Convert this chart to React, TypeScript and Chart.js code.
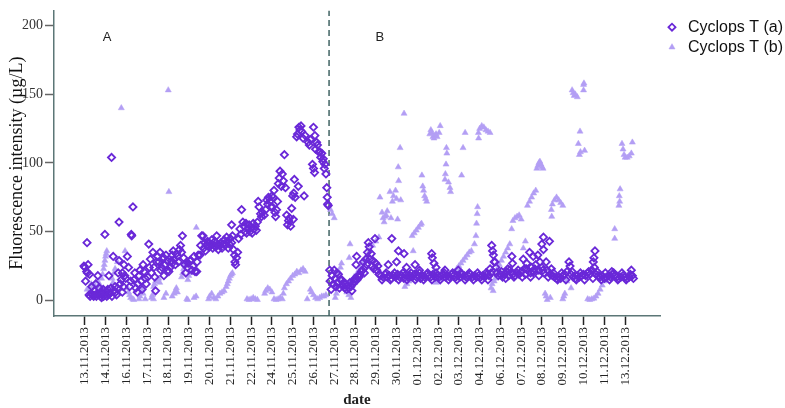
import React, { useEffect, useRef } from 'react';
import { Chart, registerables } from 'chart.js';

Chart.register(...registerables);

// ---------- data ----------
const tickLabels = [
  '13.11.2013', '14.11.2013', '16.11.2013', '17.11.2013', '18.11.2013', '19.11.2013',
  '20.11.2013', '21.11.2013', '22.11.2013', '24.11.2013', '25.11.2013', '26.11.2013',
  '27.11.2013', '28.11.2013', '29.11.2013', '30.11.2013', '01.12.2013', '02.12.2013',
  '03.12.2013', '04.12.2013', '06.12.2013', '07.12.2013', '08.12.2013', '09.12.2013',
  '10.12.2013', '11.12.2013', '13.12.2013',
];
const yTickValues = [0, 50, 100, 150, 200];
const xRange = [-1.49, 27.68];
const yRange = [-11.3, 211];
const phaseDivider = 11.75;
const panelLabels = ['A', 'B'];
const panelLabelX = [1.06, 14.2];
const panelLabelY = 191;
const seriesNames = ['Cyclops T (a)', 'Cyclops T (b)'];

// x = position on the date axis (tick index), y = fluorescence intensity (µg/L)
const cyclopsA_phaseA: [number, number][] = [
  [-0.05, 25], [0.0, 24], [0.03, 14], [0.08, 21], [0.1, 42], [0.12, 20], [0.15, 26], [0.2, 4], [0.22, 19],
  [0.25, 3], [0.3, 5], [0.33, 10], [0.38, 4], [0.42, 3], [0.45, 7], [0.5, 4], [0.52, 12], [0.55, 3],
  [0.6, 5], [0.62, 18], [0.68, 4], [0.7, 9], [0.75, 3], [0.78, 6], [0.8, 2], [0.85, 5], [0.88, 8],
  [0.9, 3], [0.96, 48], [0.98, 4],
  [1.02, 6], [1.05, 3], [1.1, 8], [1.12, 4], [1.15, 18], [1.2, 5], [1.25, 9], [1.28, 104], [1.3, 3],
  [1.36, 32], [1.4, 7], [1.45, 10], [1.48, 6], [1.52, 4], [1.56, 9], [1.6, 20], [1.64, 57], [1.64, 29],
  [1.7, 12], [1.75, 15], [1.8, 20], [1.8, 6], [1.85, 10], [1.88, 26], [1.92, 18], [1.96, 16],
  [2.04, 32], [2.1, 24], [2.15, 10], [2.2, 14], [2.23, 48], [2.25, 47], [2.31, 68], [2.36, 15], [2.4, 20],
  [2.45, 9], [2.52, 6], [2.55, 12], [2.6, 18], [2.65, 22], [2.71, 14], [2.75, 8], [2.8, 26], [2.84, 21],
  [2.9, 16], [2.95, 12],
  [3.03, 17], [3.07, 41], [3.1, 24], [3.15, 30], [3.2, 20], [3.27, 35], [3.32, 24], [3.36, 17], [3.4, 7],
  [3.45, 28], [3.5, 32], [3.56, 28], [3.61, 35], [3.65, 22], [3.7, 24], [3.75, 30], [3.8, 31], [3.8, 18],
  [3.85, 26], [3.9, 33], [3.95, 29], [4.0, 22],
  [4.04, 21], [4.1, 24], [4.15, 29], [4.2, 33], [4.2, 27], [4.25, 36], [4.3, 30], [4.35, 26], [4.4, 34],
  [4.45, 32], [4.5, 28], [4.55, 37], [4.6, 40], [4.65, 35], [4.69, 47], [4.75, 31], [4.8, 26], [4.85, 20],
  [4.93, 24], [4.97, 27],
  [5.05, 29], [5.09, 29], [5.15, 22], [5.2, 25], [5.25, 32], [5.3, 21], [5.38, 21], [5.4, 28], [5.45, 33],
  [5.54, 33], [5.57, 40], [5.62, 47], [5.68, 47], [5.72, 38], [5.76, 42], [5.8, 36], [5.85, 40], [5.9, 43],
  [5.94, 42], [6.0, 39],
  [6.05, 41], [6.1, 44], [6.15, 38], [6.2, 40], [6.25, 43], [6.3, 39], [6.34, 47], [6.38, 41], [6.42, 37],
  [6.5, 40], [6.55, 42], [6.6, 38], [6.65, 41], [6.7, 44], [6.75, 40], [6.82, 46], [6.86, 43], [6.9, 38],
  [6.95, 41], [7.0, 45], [7.06, 42], [7.06, 55], [7.1, 47],
  [7.15, 37], [7.2, 33], [7.22, 28], [7.25, 26], [7.3, 31], [7.35, 35], [7.4, 45], [7.46, 52], [7.5, 48],
  [7.54, 66], [7.6, 57], [7.65, 54], [7.7, 50], [7.75, 56], [7.78, 49], [7.85, 52], [7.9, 55], [7.95, 50],
  [8.0, 53],
  [8.05, 49], [8.1, 56], [8.15, 52], [8.2, 54], [8.25, 51], [8.3, 57], [8.34, 72], [8.38, 68], [8.45, 63],
  [8.5, 61], [8.55, 64], [8.63, 62], [8.7, 66], [8.75, 73], [8.8, 70], [8.83, 75], [8.9, 72], [8.95, 68],
  [9.0, 76], [9.02, 68],
  [9.06, 75], [9.1, 80], [9.15, 64], [9.18, 61], [9.22, 66], [9.27, 72], [9.31, 85], [9.35, 89], [9.39, 94],
  [9.45, 83], [9.5, 92], [9.55, 87], [9.6, 106], [9.65, 82], [9.71, 62], [9.75, 55], [9.8, 58], [9.85, 60],
  [9.9, 54], [9.95, 67], [10.0, 76], [10.03, 59],
  [10.05, 78], [10.08, 88], [10.12, 75], [10.19, 119], [10.23, 121], [10.27, 83], [10.3, 126], [10.35, 124],
  [10.4, 127], [10.43, 123], [10.5, 118], [10.55, 76], [10.6, 120], [10.75, 115], [10.8, 113], [10.85, 117],
  [10.95, 99], [11.0, 126], [11.0, 96], [11.05, 93], [11.07, 120],
  [11.1, 110], [11.15, 115], [11.19, 113], [11.25, 108], [11.31, 108], [11.35, 104], [11.4, 107], [11.45, 101],
  [11.47, 103], [11.52, 96], [11.55, 99], [11.6, 92], [11.64, 82], [11.66, 75], [11.68, 70], [11.71, 69],
];

const cyclopsA_phaseB: [number, number][] = [
  [11.78, 22], [11.8, 14], [11.85, 8], [11.9, 18], [11.95, 12], [12.0, 22], [12.04, 16], [12.08, 10],
  [12.12, 20], [12.15, 13], [12.2, 19], [12.25, 9], [12.3, 15], [12.36, 15], [12.4, 11], [12.45, 13], [12.5, 9],
  [12.55, 12], [12.6, 8], [12.65, 11], [12.7, 9], [12.75, 13], [12.8, 10], [12.85, 7], [12.9, 12], [12.95, 14],
  [13.0, 16], [13.05, 26], [13.08, 32], [13.1, 15], [13.15, 18], [13.2, 17], [13.24, 19], [13.3, 21],
  [13.35, 22], [13.4, 28], [13.45, 20], [13.48, 24],
  [13.52, 30], [13.56, 26], [13.6, 35], [13.64, 42], [13.68, 39], [13.72, 30], [13.78, 34], [13.82, 25],
  [13.86, 29], [13.9, 23], [13.96, 45], [14.0, 27], [14.05, 22], [14.1, 25], [14.15, 19],
  [14.25, 18], [14.35, 17], [14.45, 19], [14.55, 17], [14.6, 26], [14.65, 18], [14.77, 45], [14.75, 16],
  [14.85, 18], [14.95, 17], [15.0, 28], [15.05, 19], [15.09, 36], [15.15, 17], [15.25, 18], [15.36, 34],
  [15.35, 16], [15.45, 19], [15.48, 24], [15.55, 17], [15.65, 18], [15.75, 17], [15.85, 19], [15.89, 26],
  [15.95, 17], [16.05, 18], [16.1, 22], [16.15, 16], [16.25, 18], [16.35, 17], [16.45, 19], [16.55, 18],
  [16.65, 17], [16.69, 34], [16.72, 31], [16.75, 19], [16.8, 27], [16.85, 17], [16.9, 24], [16.95, 18],
  [17.05, 17], [17.15, 18], [17.25, 19], [17.33, 22], [17.35, 17], [17.45, 18], [17.55, 17], [17.65, 19],
  [17.75, 18], [17.85, 17], [17.97, 22], [17.95, 18], [18.05, 17], [18.15, 19], [18.25, 18], [18.35, 17],
  [18.45, 18], [18.55, 19], [18.65, 17], [18.75, 18], [18.85, 17], [18.95, 18], [19.05, 17], [19.15, 18],
  [19.25, 17], [19.35, 19], [19.45, 18], [19.5, 23], [19.55, 20], [19.58, 40], [19.62, 36], [19.66, 33],
  [19.7, 28], [19.74, 28], [19.78, 24], [19.82, 20],
  [19.9, 18], [20.0, 19], [20.1, 17], [20.2, 19], [20.3, 21], [20.35, 23], [20.4, 18], [20.5, 20], [20.55, 32],
  [20.58, 27], [20.6, 19], [20.7, 18], [20.8, 20], [20.9, 19], [21.0, 21], [21.1, 30], [21.15, 23], [21.2, 19],
  [21.27, 27], [21.3, 22], [21.4, 35], [21.45, 20], [21.5, 24], [21.58, 32], [21.6, 21], [21.7, 26], [21.8, 33],
  [21.85, 22], [21.9, 28], [21.99, 41], [22.0, 24], [22.07, 46], [22.07, 37], [22.1, 20], [22.2, 28],
  [22.25, 22], [22.36, 43], [22.4, 19], [22.45, 23], [22.5, 18], [22.6, 17], [22.7, 16], [22.8, 17],
  [22.9, 16], [23.0, 18], [23.1, 19], [23.2, 21], [23.3, 28], [23.35, 25], [23.4, 19], [23.5, 17], [23.6, 16],
  [23.7, 18], [23.8, 17], [23.9, 18], [24.0, 19], [24.1, 18], [24.2, 20], [24.3, 19], [24.4, 22], [24.47, 28],
  [24.5, 31], [24.55, 36], [24.52, 24], [24.6, 19], [24.7, 18], [24.8, 17], [24.9, 18], [25.0, 16], [25.1, 17],
  [25.2, 18], [25.3, 17], [25.36, 21], [25.4, 19], [25.5, 18], [25.6, 17], [25.7, 16], [25.8, 17], [25.9, 18],
  [26.0, 17], [26.1, 16], [26.2, 17], [26.3, 22], [26.35, 18],
];

// second layer of the dense plateau readings in phase B
const cyclopsA_plateau: [number, number][] = [
  [14.3, 15], [14.5, 20], [14.7, 15], [14.9, 20], [15.1, 15], [15.3, 20], [15.5, 15], [15.7, 20], [15.9, 15],
  [16.1, 20], [16.3, 15], [16.5, 20], [16.7, 15], [16.9, 20], [17.1, 15], [17.3, 20], [17.5, 15], [17.7, 20],
  [17.9, 15], [18.1, 20], [18.3, 15], [18.5, 20], [18.7, 15], [18.9, 20], [19.1, 15], [19.3, 20], [19.4, 15],
  [20.05, 21], [20.25, 16], [20.45, 22], [20.65, 17], [20.85, 22], [21.05, 17], [21.25, 23], [21.45, 17],
  [21.65, 23], [21.85, 18], [22.05, 22], [22.3, 17], [22.55, 20], [22.75, 15], [22.95, 20], [23.15, 15],
  [23.45, 21], [23.65, 15], [23.85, 20], [24.05, 15], [24.25, 21], [24.45, 16], [24.65, 21], [24.85, 15],
  [25.05, 20], [25.25, 15], [25.45, 20], [25.65, 15], [25.85, 20], [26.05, 15], [26.25, 19], [26.4, 16],
];

const cyclopsB_phaseA: [number, number][] = [
  [0.1, 8], [0.2, 9], [0.3, 12], [0.35, 10], [0.45, 11], [0.5, 10], [0.55, 14], [0.6, 14], [0.65, 10],
  [0.7, 12], [0.8, 16], [0.85, 19], [0.9, 23], [0.93, 26], [0.96, 29], [0.99, 32], [1.02, 34], [1.05, 36],
  [1.31, 16], [1.35, 13], [1.4, 20], [1.45, 23], [1.56, 28], [1.75, 140], [1.93, 36],
  [2.05, 9], [2.1, 6], [2.15, 4], [2.2, 2], [2.3, 1], [2.35, 0.5],
  [2.6, 1], [2.65, 3], [2.7, 6], [2.75, 8], [2.8, 5], [2.9, 1],
  [3.2, 2], [3.25, 4], [3.3, 10], [3.35, 12], [3.4, 14], [3.5, 15], [3.55, 16], [3.6, 13], [3.3, 1],
  [3.8, 2], [3.9, 5], [4.01, 153], [4.04, 79],
  [4.2, 3], [4.3, 5], [4.35, 7], [4.4, 9], [4.45, 6], [4.65, 17], [4.7, 20], [4.75, 23], [4.8, 26],
  [4.85, 28], [4.95, 15], [5.0, 18], [5.1, 20], [4.9, 1], [4.95, 0.5], [5.25, 2], [5.35, 3], [5.36, 53],
  [5.95, 1], [6.0, 3], [6.1, 5], [6.2, 2], [6.3, 1], [6.4, 3], [6.5, 5], [6.6, 6],
  [6.7, 7], [6.8, 10], [6.85, 12], [6.9, 14], [6.95, 16], [7.0, 18], [7.05, 19], [7.1, 20],
  [7.8, 1], [7.9, 0.5], [8.0, 1], [8.1, 2], [8.2, 1], [8.3, 0.5],
  [8.65, 5], [8.7, 7], [8.8, 9], [8.9, 8], [9.0, 6],
  [9.1, 1], [9.2, 0.5], [9.3, 1], [9.4, 2], [9.5, 1],
  [9.55, 5], [9.6, 9], [9.7, 12], [9.8, 14], [9.9, 16], [10.0, 18],
  [10.1, 19], [10.2, 21], [10.3, 20], [10.4, 22], [10.5, 23], [10.6, 21],
  [10.85, 8], [10.9, 6], [11.0, 4], [11.1, 2],
  [10.7, 1], [11.2, 1], [11.3, 2], [11.4, 3], [11.5, 3], [11.6, 4],
  [11.82, 66], [11.9, 63], [12.0, 60],
];

const cyclopsB_phaseB: [number, number][] = [
  [12.05, 2], [12.1, 5], [12.15, 10], [12.2, 16], [12.25, 20], [12.3, 24], [12.35, 27],
  [12.3, 12], [12.45, 9], [12.6, 6], [12.7, 4],
  [12.76, 41], [12.72, 31], [12.8, 2],
  [12.8, 14], [12.95, 17], [13.1, 20], [13.25, 24], [13.4, 28], [13.55, 32], [13.7, 36], [13.85, 40],
  [14.0, 43], [14.15, 46],
  [14.2, 75], [14.3, 64], [14.35, 60], [14.4, 57], [14.45, 61], [14.5, 62], [14.55, 65], [14.68, 79],
  [14.73, 60], [14.8, 72], [14.85, 76], [14.95, 80], [15.0, 74], [15.08, 97], [15.1, 87], [15.17, 111],
  [15.36, 136], [15.05, 59], [15.2, 73],
  [15.75, 47], [15.85, 49], [15.95, 51], [16.05, 53], [16.15, 55], [16.2, 56], [15.8, 36],
  [15.4, 10], [15.5, 12], [15.6, 14], [15.7, 16],
  [16.22, 91], [16.26, 83], [16.3, 80], [16.35, 76], [16.4, 74], [16.45, 72],
  [16.6, 121], [16.65, 124], [16.7, 122], [16.75, 119], [16.8, 118], [16.85, 120], [16.9, 121],
  [16.95, 119], [17.05, 122], [17.1, 127],
  [17.4, 111], [17.42, 107], [17.38, 99], [17.35, 92], [17.33, 88], [17.5, 86], [17.57, 82], [17.6, 79],
  [16.9, 13], [17.1, 15], [17.3, 16], [17.5, 18],
  [18.13, 91], [18.2, 111], [18.3, 122],
  [18.94, 122], [18.95, 118], [19.0, 125], [19.1, 127], [19.2, 126], [19.3, 124], [19.4, 123], [19.5, 122],
  [18.9, 68], [18.88, 63], [18.85, 56], [18.82, 47], [18.75, 41],
  [17.8, 21], [17.9, 23], [18.0, 25], [18.1, 27], [18.2, 29], [18.3, 31], [18.4, 33], [18.5, 35], [18.6, 36],
  [19.55, 9], [19.6, 12], [19.65, 7], [19.7, 14], [19.75, 16],
  [19.85, 23], [19.95, 26], [20.05, 29], [20.15, 32], [20.25, 35], [20.35, 38], [20.45, 41], [20.54, 52],
  [20.6, 58], [20.7, 60], [20.8, 61], [20.9, 62], [21.0, 59],
  [21.3, 69], [21.4, 72], [21.5, 75], [21.6, 78], [21.7, 80],
  [21.75, 96], [21.8, 98], [21.85, 100], [21.9, 101], [21.95, 99], [22.0, 97], [22.05, 96],
  [21.2, 43], [21.1, 38],
  [22.47, 61], [22.45, 66], [22.5, 70], [22.6, 73], [22.7, 75], [22.8, 73], [22.9, 71], [23.0, 69],
  [23.83, 123], [23.75, 114], [23.8, 106], [23.85, 108], [24.05, 109],
  [23.45, 153], [23.5, 151], [23.55, 149], [23.6, 150], [23.7, 148], [24.0, 157], [24.02, 158], [24.0, 153],
  [25.5, 52], [25.5, 45], [25.76, 81], [25.72, 76], [25.74, 72], [25.7, 69],
  [25.85, 114], [25.9, 110], [25.95, 106], [26.0, 104], [26.1, 104], [26.2, 105], [26.3, 107], [26.35, 115],
  [22.15, 5], [22.2, 3], [22.25, 0.5], [22.4, 2],
  [23.0, 1], [23.05, 3], [23.1, 5], [23.2, 14], [23.15, 16], [23.4, 9],
  [24.2, 1], [24.3, 0.5], [24.4, 1], [24.5, 1.5], [24.6, 3], [24.7, 5], [24.8, 8], [24.9, 11], [25.0, 14],
  [25.1, 16], [25.2, 17], [25.4, 18], [25.6, 19],
];

// ---------- chart ----------
const toXY = (pts: [number, number][]) => pts.map(([x, y]) => ({ x, y }));

const panelLabelPlugin = {
  id: 'panelLabels',
  afterDatasetsDraw(chart: any) {
    const { ctx, scales } = chart;
    const xs = scales.x;
    const ys = scales.y;
    ctx.save();
    ctx.font = '13px "Liberation Sans", Arial, sans-serif';
    ctx.fillStyle = '#222';
    ctx.textAlign = 'center';
    ctx.textBaseline = 'middle';
    panelLabels.forEach((t, i) => {
      ctx.fillText(t, xs.getPixelForValue(panelLabelX[i]), ys.getPixelForValue(panelLabelY));
    });
    ctx.restore();
  },
};

const legendWidthPlugin = {
  id: 'legendWidth',
  afterInit(chart: any) {
    const lg = chart.legend;
    if (!lg) return;
    const orig = lg.fit.bind(lg);
    lg.fit = () => {
      orig();
      lg.width = 123;
    };
  },
};

export default function App() {
  const canvasRef = useRef<HTMLCanvasElement | null>(null);

  useEffect(() => {
    if (!canvasRef.current) return;
    const darkPurple = '#6a28d8';
    const lightPurple = '#b39ef4';
    const axisColor = '#5c7777';
    const serif = '"Liberation Serif", "Times New Roman", serif';

    const chart = new Chart(canvasRef.current, {
      type: 'scatter',
      data: {
        datasets: [
          {
            label: seriesNames[0],
            data: toXY([...cyclopsA_phaseA, ...cyclopsA_phaseB, ...cyclopsA_plateau]),
            pointStyle: 'rectRot',
            pointRadius: 3.6,
            pointBorderWidth: 1.8,
            borderColor: darkPurple,
            backgroundColor: 'rgba(255,255,255,0)',
          },
          {
            label: seriesNames[1],
            data: toXY([...cyclopsB_phaseA, ...cyclopsB_phaseB]),
            pointStyle: 'triangle',
            pointRadius: 3.5,
            pointBorderWidth: 0.5,
            borderColor: lightPurple,
            backgroundColor: lightPurple,
          },
          {
            type: 'line',
            label: 'divider',
            data: [
              { x: phaseDivider, y: yRange[0] },
              { x: phaseDivider, y: yRange[1] },
            ],
            borderColor: '#3f6262',
            borderWidth: 1.5,
            borderDash: [6, 4],
            pointRadius: 0,
            showLine: true,
            fill: false,
          } as any,
        ],
      },
      options: {
        responsive: false,
        animation: false,
        layout: { padding: { top: 0, right: 2, bottom: 0, left: 0 } },
        plugins: {
          tooltip: { enabled: false },
          legend: {
            position: 'right',
            align: 'start',
            title: { display: true, text: '', padding: { top: 7, bottom: 7 }, font: { size: 1 } },
            labels: {
              usePointStyle: true,
              boxWidth: 28,
              boxHeight: 5,
              padding: 4,
              textAlign: 'right',
              color: '#111',
              font: { family: '"Liberation Sans", Arial, sans-serif', size: 16 },
              filter: (item: any) => item.datasetIndex !== 2,
            },
          },
        },
        scales: {
          x: {
            type: 'linear',
            min: xRange[0],
            max: xRange[1],
            afterBuildTicks: (scale: any) => {
              scale.ticks = tickLabels.map((_, i) => ({ value: i }));
            },
            afterFit: (scale: any) => {
              scale.height = 92;
            },
            ticks: {
              autoSkip: false,
              minRotation: 90,
              maxRotation: 90,
              padding: 2,
              color: '#222',
              font: { family: serif, size: 13 },
              callback: (v: any) => tickLabels[v] ?? '',
            },
            grid: {
              display: true,
              drawOnChartArea: false,
              drawTicks: true,
              tickLength: 9,
              tickColor: '#222',
              tickWidth: 1.5,
            },
            border: { display: true, color: axisColor, width: 1.5 },
            title: {
              display: true,
              text: 'date',
              color: '#222',
              padding: { top: 0, bottom: 0 },
              font: { family: serif, size: 15, weight: 'bold', lineHeight: 1 },
            },
          },
          y: {
            type: 'linear',
            min: yRange[0],
            max: yRange[1],
            afterBuildTicks: (scale: any) => {
              scale.ticks = yTickValues.map((v) => ({ value: v }));
            },
            afterFit: (scale: any) => {
              scale.width = 54;
            },
            ticks: {
              padding: 2,
              color: '#333',
              font: { family: serif, size: 14 },
            },
            grid: {
              display: true,
              drawOnChartArea: false,
              drawTicks: true,
              tickLength: 9,
              tickColor: '#666',
              tickWidth: 1.5,
            },
            border: { display: true, color: axisColor, width: 1.5 },
            title: {
              display: true,
              text: 'Fluorescence intensity (µg/L)',
              color: '#111',
              padding: { top: 6, bottom: 0 },
              font: { family: serif, size: 18 },
            },
          },
        },
      },
      plugins: [panelLabelPlugin, legendWidthPlugin],
    });

    return () => chart.destroy();
  }, []);

  return (
    <div style={{ position: 'absolute', left: 0, top: 0, width: 785, height: 408, background: '#fff' }}>
      <canvas ref={canvasRef} width={785} height={408} />
    </div>
  );
}
